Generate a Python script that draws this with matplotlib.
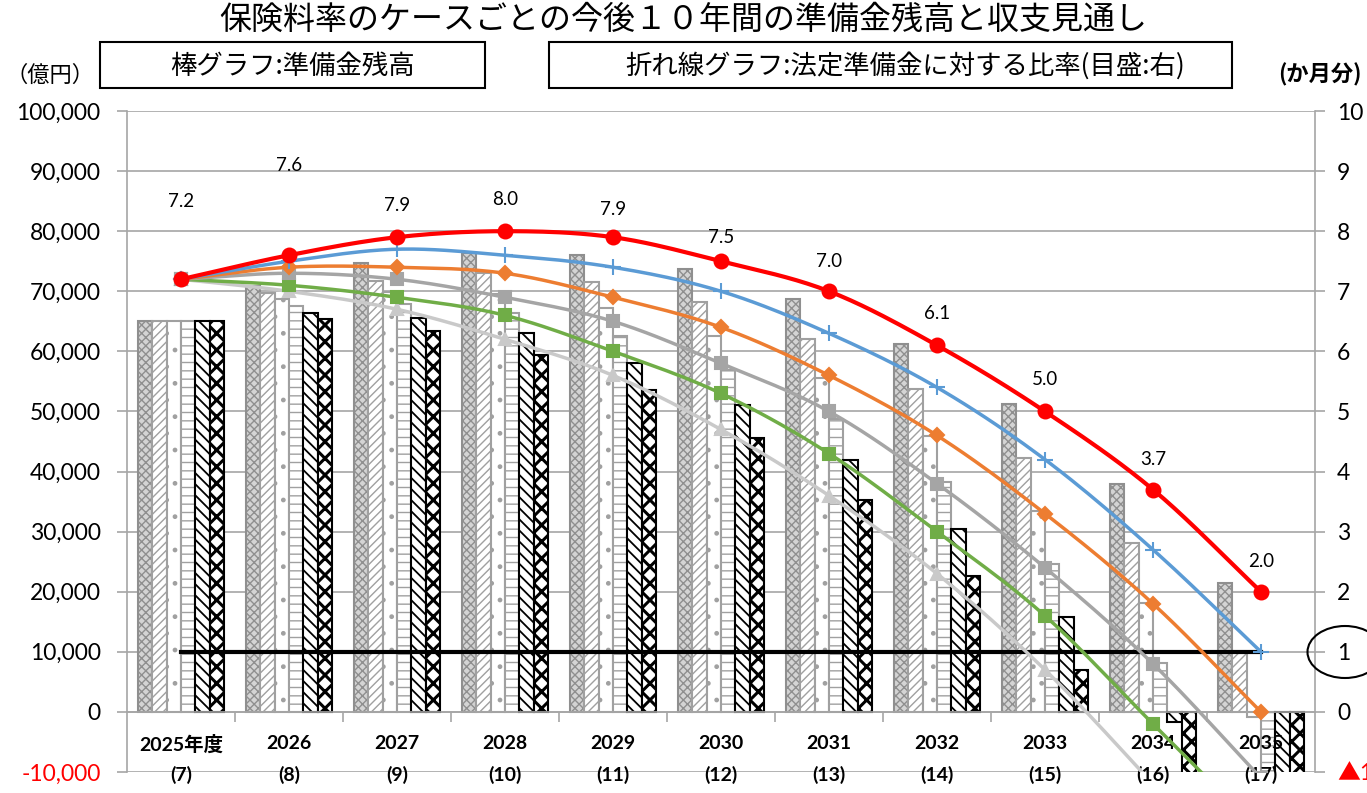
import numpy as np
import matplotlib
matplotlib.use('Agg')
import matplotlib.pyplot as plt
from matplotlib.patches import Ellipse, Rectangle
from matplotlib.ticker import FixedLocator

plt.rcParams['font.family'] = ['Lato', 'Noto Sans CJK JP', 'DejaVu Sans']
plt.rcParams['hatch.linewidth'] = 1.0
jp = ['Noto Sans CJK JP', 'DejaVu Sans']

# 年度と括弧内の数字
years = ['2025年度', '2026', '2027', '2028', '2029', '2030', '2031', '2032', '2033', '2034', '2035']
sub_labels = ['(7)', '(8)', '(9)', '(10)', '(11)', '(12)', '(13)', '(14)', '(15)', '(16)', '(17)']

# 準備金残高（億円）  ケース1〜6
bar1 = [65000, 70900, 74700, 76400, 76100, 73700, 68700, 61200, 51200, 37900, 21500]
bar2 = [65000, 69700, 71700, 73000, 71500, 68200, 62000, 53700, 42300, 28100, 9800]
bar3 = [65000, 68700, 69800, 69500, 67200, 62600, 55500, 45900, 33500, 18200, -800]
bar4 = [65000, 67500, 67900, 66400, 62600, 56900, 48700, 38300, 24600, 8200, -13000]
bar5 = [65000, 66400, 65600, 63000, 58100, 51000, 42000, 30400, 15800, -1700, -20000]
bar6 = [65000, 65400, 63400, 59400, 53600, 45500, 35300, 22600, 6900, -13000, -30000]

# 法定準備金に対する比率（か月分）
red_line = [7.2, 7.6, 7.9, 8.0, 7.9, 7.5, 7.0, 6.1, 5.0, 3.7, 2.0]
blue_line = [7.2, 7.5, 7.7, 7.6, 7.4, 7.0, 6.3, 5.4, 4.2, 2.7, 1.0]
orange_line = [7.2, 7.4, 7.4, 7.3, 6.9, 6.4, 5.6, 4.6, 3.3, 1.8, 0.0]
gray_line = [7.2, 7.3, 7.2, 6.9, 6.5, 5.8, 5.0, 3.8, 2.4, 0.8, -1.1]
green_line = [7.2, 7.1, 6.9, 6.6, 6.0, 5.3, 4.3, 3.0, 1.6, -0.2, -2.0]
lgray_line = [7.2, 7.0, 6.7, 6.2, 5.6, 4.7, 3.6, 2.3, 0.7, -1.2, -3.2]

legal_level = 1.0

def smooth(x, y, n=20):
    # Catmull-Rom で滑らかな線にする（Excelの「スムージング」風）
    x = np.asarray(x, float)
    y = np.asarray(y, float)
    px = np.concatenate([[2 * x[0] - x[1]], x, [2 * x[-1] - x[-2]]])
    py = np.concatenate([[2 * y[0] - y[1]], y, [2 * y[-1] - y[-2]]])
    xs, ys = [], []
    t = np.linspace(0, 1, n, endpoint=False)
    for i in range(1, len(px) - 2):
        for p, out in ((px, xs), (py, ys)):
            p0, p1, p2, p3 = p[i - 1], p[i], p[i + 1], p[i + 2]
            out.extend(0.5 * ((2 * p1) + (-p0 + p2) * t + (2 * p0 - 5 * p1 + 4 * p2 - p3) * t ** 2
                              + (-p0 + 3 * p1 - 3 * p2 + p3) * t ** 3))
    xs.append(x[-1])
    ys.append(y[-1])
    return np.array(xs), np.array(ys)

fig = plt.figure(figsize=(13.67, 7.93), dpi=100)
ax = fig.add_axes([127 / 1367, 1 - 772 / 793, (1315 - 127) / 1367, (772 - 111) / 793])
ax2 = ax.twinx()

ind = np.arange(len(years))
w = 0.134
grid_c = '#a6a6a6'

bar_sets = [bar1, bar2, bar3, bar4, bar5, bar6]
styles = [
    dict(fc='#d4d4d4', hatch='xxxx', ec='#8f8f8f', hl=1.0),
    dict(fc='white', hatch='////', ec='#a0a0a0', hl=1.0),
    dict(fc='white', hatch='.', ec='#a0a0a0', hl=1.0),
    dict(fc='white', hatch='--', ec='#a0a0a0', hl=1.0),
    dict(fc='white', hatch='\\\\\\', ec='black', hl=1.3),
    dict(fc='white', hatch='XX', ec='black', hl=2.2),
]
for k, (vals, st) in enumerate(zip(bar_sets, styles)):
    with plt.rc_context({'hatch.linewidth': st['hl']}):
        ax.bar(ind + (k - 2.5) * w, vals, w, color=st['fc'], hatch=st['hatch'],
               edgecolor=st['ec'], linewidth=1.5, zorder=2)

ax.set_xlim(-0.5, 10.5)
ax.set_ylim(-10000, 100000)
ax.set_yticks(np.arange(-10000, 100001, 10000))
ax.set_yticklabels(['{:,}'.format(v) for v in range(-10000, 100001, 10000)], fontsize=16.5)
ax.get_yticklabels()[0].set_color('red')
ax.yaxis.grid(True, color=grid_c, linewidth=1.2, zorder=0)
ax.set_axisbelow(True)

ax.spines['top'].set_visible(False)
ax.spines['bottom'].set_position(('data', 0))
for s in ['left', 'bottom', 'right']:
    ax.spines[s].set_color(grid_c)
    ax.spines[s].set_linewidth(1.2)
ax.set_xticks([])
ax.xaxis.set_minor_locator(FixedLocator(ind[:-1] + 0.5))
ax.tick_params(axis='x', which='minor', length=7, color=grid_c, direction='out', width=1.2)
ax.tick_params(axis='y', length=7, color=grid_c, width=1.2, pad=12)

for i in ind:
    ax.annotate(years[i], (i, 0), xytext=(0, -32), textcoords='offset pixels',
                ha='center', va='center', fontsize=14, fontweight='bold')
    ax.annotate(sub_labels[i], (i, 0), xytext=(0, -63), textcoords='offset pixels',
                ha='center', va='center', fontsize=14, fontweight='bold', annotation_clip=False)

# 右軸
ax2.set_ylim(-1, 10)
ax2.set_yticks(np.arange(-1, 11, 1))
r_labels = ['▲1'] + [str(v) for v in range(0, 11)]
ax2.set_yticklabels(r_labels, fontsize=16.5)
ax2.get_yticklabels()[0].set_color('red')
ax2.tick_params(axis='y', length=7, color=grid_c, width=1.2, pad=9)
for s in ['left', 'right', 'top', 'bottom']:
    ax2.spines[s].set_visible(False)

ax2.plot([0, 10], [legal_level, legal_level], color='black', linewidth=3, zorder=3)

line_sets = [
    (lgray_line, '#c9c9c9', '^', 9),
    (green_line, '#70ad47', 's', 8),
    (gray_line, '#a5a5a5', 's', 9),
    (orange_line, '#ed7d31', 'D', 7),
    (blue_line, '#5b9bd5', '+', 11),
    (red_line, '#ff0000', 'o', 10),
]
for vals, c, m, ms in line_sets:
    sx, sy = smooth(ind, vals)
    lw = 3 if c == '#ff0000' else 2.5
    ax2.plot(sx, sy, color=c, linewidth=lw, zorder=4)
    ax2.plot(ind, vals, linestyle='none', marker=m, color=c, markersize=ms,
             markeredgewidth=1.5, zorder=5)

label_off = [78, 90, 32, 32, 28, 24, 30, 32, 32, 30, 30]
for i, v in enumerate(red_line):
    ax2.annotate('%.1f' % v, (i, v), xytext=(0, label_off[i]), textcoords='offset pixels',
                 ha='center', va='center', fontsize=13.5)

# タイトル・凡例ボックス
fig.text(0.5, 1 - 20 / 793, '保険料率のケースごとの今後１０年間の準備金残高と収支見通し',
         ha='center', va='center', fontsize=23, family=jp)
fig.patches.append(Rectangle((100 / 1367, 1 - 88 / 793), 385 / 1367, 46 / 793,
                             transform=fig.transFigure, fill=False, edgecolor='black', linewidth=1.5))
fig.patches.append(Rectangle((549 / 1367, 1 - 88 / 793), 683 / 1367, 46 / 793,
                             transform=fig.transFigure, fill=False, edgecolor='black', linewidth=1.5))
fig.text(292 / 1367, 1 - 66 / 793, '棒グラフ:準備金残高', ha='center', va='center', fontsize=19, family=jp)
fig.text(905 / 1367, 1 - 66 / 793, '折れ線グラフ:法定準備金に対する比率(目盛:右)', ha='center', va='center',
         fontsize=19, family=jp)
fig.text(50 / 1367, 1 - 75 / 793, '（億円）', ha='center', va='center', fontsize=16, family=jp)
fig.text(1320 / 1367, 1 - 75 / 793, '(か月分)', ha='center', va='center', fontsize=16, fontweight='bold',
         family=jp)

fig.patches.append(Ellipse((1345 / 1367, 1 - 652 / 793), 75 / 1367, 52 / 793,
                           transform=fig.transFigure, fill=False, edgecolor='black', linewidth=1.5))

fig.savefig('out.png', dpi=100)
